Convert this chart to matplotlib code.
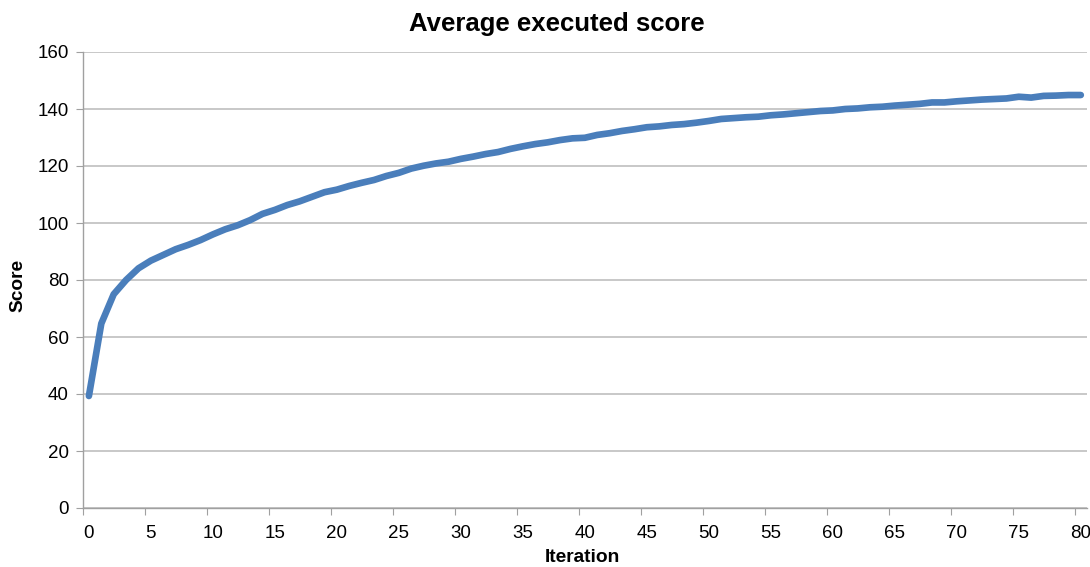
import numpy as np
import matplotlib.pyplot as plt

# average executed score per iteration
iterations = list(range(81))
scores = [
    39.3, 64.7, 75.0, 80.0, 84.1, 86.8, 88.8, 90.8, 92.3, 94.0,
    96.0, 97.8, 99.2, 101.0, 103.2, 104.6, 106.3, 107.6, 109.2, 110.8,
    111.7, 113.0, 114.1, 115.1, 116.5, 117.6, 119.1, 120.1, 120.9, 121.5,
    122.5, 123.3, 124.2, 124.9, 126.0, 126.9, 127.7, 128.3, 129.1, 129.7,
    129.9, 130.9, 131.5, 132.3, 132.9, 133.6, 133.9, 134.4, 134.7, 135.2,
    135.8, 136.5, 136.8, 137.1, 137.3, 137.8, 138.1, 138.5, 138.9, 139.3,
    139.5, 140.0, 140.2, 140.6, 140.8, 141.2, 141.5, 141.8, 142.3, 142.3,
    142.7, 143.0, 143.3, 143.5, 143.7, 144.3, 144.0, 144.6, 144.7, 144.9,
    144.9,
]
x_labels = [str(v) for v in range(0, 81, 5)]
y_ticks = list(range(0, 161, 20))

plt.rcParams['font.family'] = ['Liberation Sans', 'DejaVu Sans']

fig = plt.figure(figsize=(10.9, 5.67), dpi=100)
ax = fig.add_axes([82.7 / 1090, 1 - 508 / 567, (1087 - 82.7) / 1090, (508 - 52) / 567])

ax.plot(iterations, scores, color='#4a7ebb', linewidth=4.8,
        solid_capstyle='round', solid_joinstyle='round', zorder=3)

# category style axis: ticks between categories, labels on categories
ax.set_xlim(-0.5, 80.5)
ax.set_ylim(0, 160)
ax.set_xticks(np.arange(-0.5, 81, 5))
ax.set_xticklabels([])
ax.set_xticks(np.arange(0, 81, 5), minor=True)
ax.set_xticklabels(x_labels, minor=True)
ax.tick_params(axis='x', which='major', length=5, color='#a0a0a0', direction='out')
ax.tick_params(axis='x', which='minor', length=0, pad=12, labelsize=13.5)

ax.set_yticks(y_ticks)
ax.tick_params(axis='y', length=5, color='#a0a0a0', direction='out', pad=5, labelsize=13.5)
ax.grid(axis='y', color='#bfbfbf', linewidth=1.2)
ax.set_axisbelow(True)

for side in ['top', 'right']:
    ax.spines[side].set_visible(False)
for side in ['left', 'bottom']:
    ax.spines[side].set_color('#a0a0a0')
    ax.spines[side].set_linewidth(1.0)

fig.text(557 / 1090, 1 - 24 / 567, 'Average executed score', fontsize=18.5,
         fontweight='bold', ha='center', va='center')
fig.text(582 / 1090, 1 - 557 / 567, 'Iteration', fontsize=13.8,
         fontweight='bold', ha='center', va='center')
fig.text(18 / 1090, 1 - 285 / 567, 'Score', fontsize=13.8, fontweight='bold',
         ha='center', va='center', rotation=90)

plt.savefig('out.png', dpi=100)
